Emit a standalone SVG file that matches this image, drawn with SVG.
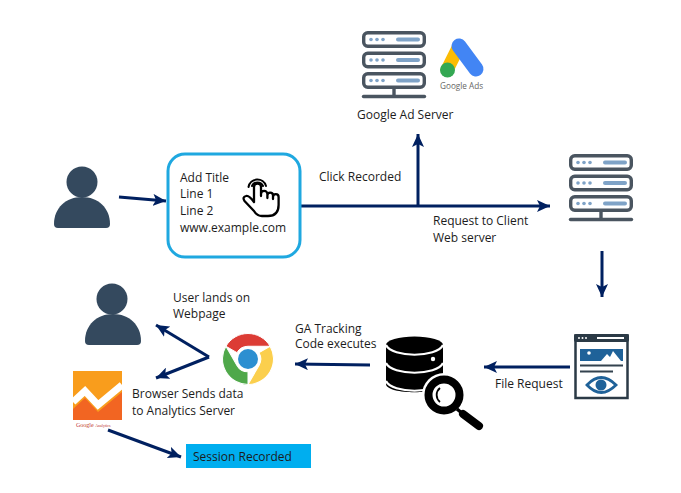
<svg xmlns="http://www.w3.org/2000/svg" width="681" height="493" viewBox="0 0 681 493">
<style>
text{font-family:"Open Sans","Liberation Sans",sans-serif;font-size:12px;fill:#1c1c1c}
.c{fill:none;stroke:#002060;stroke-width:3}
.srow{fill:#fff;stroke:#4a5560;stroke-width:3.4}
.sdot{fill:#7fa3c7}
.sbar{stroke:#7fa3c7;stroke-width:4;stroke-linecap:round}
.person{fill:#34495e}
.ink{fill:none;stroke:#000;stroke-width:2.3;stroke-linecap:round;stroke-linejoin:round}
.wedge{stroke:#fff;stroke-width:1}
</style>
<defs>
<marker id="ah" markerUnits="userSpaceOnUse" markerWidth="14" markerHeight="12" refX="13" refY="6" orient="auto"><path d="M0 0L13 6L0 12L3 6Z" fill="#002060"/></marker>
<g id="row"><rect class="srow" x="1.7" y="1.7" width="60.6" height="13.6" rx="4"/><circle class="sdot" cx="9" cy="8.500" r="1.800"/><circle class="sdot" cx="15" cy="8.500" r="1.800"/><circle class="sdot" cx="21" cy="8.500" r="1.800"/><line class="sbar" x1="36" y1="8.500" x2="56" y2="8.500"/></g>
<g id="server"><use href="#row"/><use href="#row" y="20.500"/><use href="#row" y="41"/><path d="M32 58V65" stroke="#4a5560" stroke-width="3.400"/><path d="M1.500 65.500H62.500" stroke="#4a5560" stroke-width="3.400" stroke-linecap="round"/></g>
<path id="body" d="M0 46C0 30 12 19 28 19S56 30 56 46Q56 50 52 50H4Q0 50 0 46Z"/>
<path id="wedge" d="M-22.080 -12.750A25.500 25.500 0 0 1 22.080 -12.750H0A12.750 12.750 0 0 0 -11.040 -6.375Z"/>
</defs>
<rect width="681" height="493" fill="#fff"/>
<g id="connectors">
<path class="c" d="M119 197L166 201" marker-end="url(#ah)"/>
<path class="c" d="M300 206H550" marker-end="url(#ah)"/>
<path class="c" d="M418 206V134" marker-end="url(#ah)"/>
<path class="c" d="M602 251V297" marker-end="url(#ah)"/>
<path class="c" d="M570 367H484" marker-end="url(#ah)"/>
<path class="c" d="M370 365L295 364" marker-end="url(#ah)"/>
<path class="c" d="M209 357L156 325" marker-end="url(#ah)"/>
<path class="c" d="M209 357L156 378" marker-end="url(#ah)"/>
<path class="c" d="M108 430L181 457" marker-end="url(#ah)"/>
</g>
<g id="ad-server"><use href="#server" x="362" y="31"/>
<path d="M458 48L447 70" stroke="#fbbc04" stroke-width="13" stroke-linecap="round"/>
<path d="M459 46L476 69" stroke="#4285f4" stroke-width="15" stroke-linecap="round"/>
<circle cx="447.500" cy="70" r="7.500" fill="#34a853"/>
<text x="440" y="89" style="font-size:8.200px;fill:#666">Google Ads</text>
<text x="357" y="119">Google Ad Server</text></g>
<g id="user-1"><circle class="person" cx="82" cy="182" r="15.500"/><use href="#body" class="person" x="54" y="178"/></g>
<g id="ad-card"><rect x="168" y="154" width="132" height="103" rx="17" fill="#fff" stroke="#1fa8e0" stroke-width="3"/>
<text x="180" y="181.700">Add Title</text><text x="180" y="198">Line 1</text><text x="180" y="214.700">Line 2</text><text x="180" y="231.700">www.example.com</text>
<path class="ink" d="M254 202V187a3.500 3.500 0 0 1 7 0V196M261 194a3.200 3.200 0 0 1 6.400 0V198M267.400 195.500a2.800 2.800 0 0 1 5.600 0V199M273 197a2.800 2.800 0 0 1 5.600 0V205Q278.600 216 268 216H262Q257 216 254 211L244.500 201Q242 197 246 196Q249 195 254 202"/>
<path class="ink" style="stroke-width:2" d="M252 186a6 6 0 0 1 11 0M248.500 187a9 9 0 0 1 17.500 -1"/></g>
<text id="click-recorded" x="319" y="180.500">Click Recorded</text>
<text x="433" y="224.700">Request to Client</text><text x="433" y="241.700">Web server</text>
<g id="client-server"><use href="#server" x="569" y="154"/></g>
<g id="webpage"><rect x="575.500" y="335.500" width="52" height="62.500" fill="#fff" stroke="#2b3a46" stroke-width="2.500"/><rect x="574" y="334" width="55" height="8" rx="2" fill="#2b3a46"/>
<circle cx="579" cy="338" r="1" fill="#fff"/><circle cx="582.500" cy="338" r="1" fill="#fff"/><circle cx="586" cy="338" r="1" fill="#fff"/><rect x="597" y="337" width="27" height="2" fill="#fff"/>
<rect x="580" y="349" width="43" height="12" fill="#1f6299"/><circle cx="589" cy="353" r="1.800" fill="#fff"/><path d="M601 361L607 354L610 357L613 351L621 361Z" fill="#fff"/>
<path d="M580 365.500H623M580 371.500H613" stroke="#33424e" stroke-width="1.800"/>
<path d="M587 385Q601 370 616 385Q601 400 587 385Z" fill="none" stroke="#1f6299" stroke-width="2.800"/><circle cx="601" cy="385" r="5.500" fill="#1f6299"/></g>
<text id="file-request" x="495" y="388">File Request</text>
<g id="database">
<path d="M386 345V384C386 395 443 395 443 384V345Z" fill="#000"/>
<ellipse cx="414.500" cy="345" rx="28.500" ry="8.500" fill="#000"/>
<path d="M386 345C392 358 437 358 443 345M386 363C392 376 437 376 443 363M386 381C392 394 437 394 443 381" fill="none" stroke="#fff" stroke-width="2.200"/>
<circle cx="433" cy="359" r="2.200" fill="#fff"/>
<circle cx="444" cy="395" r="22" fill="#fff"/><circle cx="444" cy="395" r="15.500" fill="#fff" stroke="#000" stroke-width="8"/>
<path d="M440 388a9 9 0 0 0 0 14" fill="none" stroke="#000" stroke-width="1.800"/>
<path d="M457 409L463 414" stroke="#000" stroke-width="3.500"/><path d="M463 414L479 426" stroke="#000" stroke-width="8" stroke-linecap="round"/></g>
<text x="295" y="332.500">GA Tracking</text><text x="295" y="348">Code executes</text>
<g id="chrome"><g transform="translate(248 359)">
<use href="#wedge" class="wedge" fill="#dc3c35"/>
<use href="#wedge" class="wedge" fill="#fbcf4d" transform="rotate(120)"/>
<use href="#wedge" class="wedge" fill="#4fa84a" transform="rotate(240)"/>
<circle r="10" fill="#2c8fd1"/></g></g>
<text x="173" y="301.500">User lands on</text><text x="173" y="317.500">Webpage</text>
<g id="user-2"><circle class="person" cx="112" cy="299" r="15.500"/><use href="#body" class="person" x="85" y="295"/></g>
<g id="analytics"><rect x="73" y="371" width="49" height="49" fill="#f99d1c"/><path d="M73 420V409L85 398L98 412L122 392V420Z" fill="#f26522"/>
<path d="M73 402L85 391L98 405L122 385" fill="none" stroke="#fff" stroke-width="7"/>
<text x="76" y="427" style="font-family:'Liberation Serif',serif;font-size:6px;fill:#c0392b">Google <tspan style="font-size:4px">Analytics</tspan></text></g>
<text x="132" y="398">Browser Sends data</text><text x="132" y="414.500">to Analytics Server</text>
<g id="session"><rect x="186" y="444" width="125" height="24" fill="#00aeef"/><text x="193" y="461">Session Recorded</text></g>
</svg>
